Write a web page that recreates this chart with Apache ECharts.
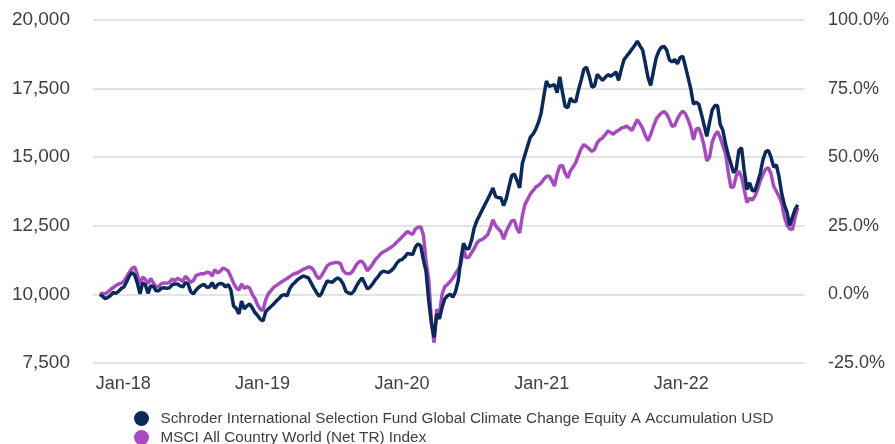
<!DOCTYPE html>
<html>
<head>
<meta charset="utf-8">
<script src="https://cdn.jsdelivr.net/npm/echarts@6/dist/echarts.min.js"></script>
<style>
  html, body { margin: 0; padding: 0; background: #fff; }
  #chart { width: 895px; height: 444px; }
</style>
</head>
<body>
<div id="chart"></div>
<script>
// weekly observations starting 1 Nov 2017, growth of 10,000
const firstDate = Date.UTC(2017, 10, 1);
const stepDays = 7;
const fundName = 'Schroder International Selection Fund Global Climate Change Equity A Accumulation USD';
const indexName = 'MSCI All Country World (Net TR) Index';

const fundValues = [
  10000, 9930, 9840, 9890, 9960, 10070, 10040, 10110, 10220, 10270,
  10460, 10670, 10800, 10710, 10420, 10020, 10420, 10350, 10040, 10310,
  10290, 10130, 10130, 10220, 10240, 10220, 10240, 10350, 10380, 10380,
  10310, 10270, 10430, 10380, 10090, 10020, 10160, 10260, 10330, 10360,
  10260, 10270, 10430, 10220, 10350, 10400, 10380, 10270, 10360, 10160,
  9580, 9490, 9290, 9760, 9470, 9580, 9650, 9510, 9340, 9230,
  9090, 9030, 9360, 9470, 9560, 9650, 9760, 9850, 9960, 9990,
  9950, 10200, 10350, 10440, 10540, 10610, 10670, 10640, 10600, 10420,
  10240, 10070, 9930, 10050, 10290, 10490, 10460, 10440, 10540, 10600,
  10530, 10380, 10110, 10050, 10020, 10120, 10310, 10470, 10600, 10420,
  10200, 10260, 10380, 10530, 10640, 10780, 10850, 10820, 10800, 10870,
  10970, 11130, 11240, 11270, 11360, 11490, 11470, 11450, 11720, 11840,
  11770, 11260, 10830, 9760, 8960, 8430, 9290, 9110, 9530, 9840,
  9950, 10010, 9900, 10100, 10490, 11280, 11860, 11660, 11660, 11970,
  12420, 12690, 12880, 13080, 13270, 13460, 13660, 13880, 13570, 13520,
  13520, 13230, 13500, 13920, 14320, 14390, 14150, 13880, 14770, 15100,
  15420, 15730, 15840, 16010, 16260, 16590, 17200, 17780, 17580, 17610,
  17640, 17350, 17930, 17370, 16850, 16800, 17150, 17030, 17030, 17450,
  17810, 18200, 18280, 17970, 17560, 17590, 18020, 17910, 17800, 17910,
  18010, 17950, 18010, 18110, 17800, 18200, 18550, 18680, 18800, 18940,
  19070, 19230, 19060, 18900, 18420, 17900, 17620, 18120, 18600, 18860,
  19010, 19040, 18900, 18550, 18470, 18560, 18400, 18630, 18680, 18300,
  17900, 17490, 16930, 17010, 16930, 16560, 16160, 15760, 16260, 16720,
  16880, 16880, 16190, 15980, 15480, 15090, 14760, 14430, 14580, 15250,
  15340, 14500, 13820, 14070, 13780, 13790, 14080, 14420, 14910, 15200,
  15250, 15000, 14640, 14720, 14290, 13680, 13260, 13000, 12510, 12810,
  13100, 13260
];

const indexValues = [
  10000, 10040, 10020, 10090, 10180, 10250, 10320, 10380, 10410, 10480,
  10640, 10800, 10940, 11000, 10730, 10370, 10630, 10550, 10390, 10580,
  10420, 10270, 10290, 10390, 10420, 10410, 10440, 10560, 10500, 10580,
  10540, 10470, 10660, 10560, 10440, 10510, 10690, 10730, 10750, 10750,
  10810, 10790, 10670, 10900, 10780, 10840, 10960, 10920, 10850, 10640,
  10410, 10240, 10160, 10380, 10220, 10280, 10240, 10000, 9850, 9620,
  9450, 9420, 9800, 10020, 10140, 10260, 10320, 10390, 10460, 10520,
  10580, 10650, 10720, 10760, 10790, 10850, 10910, 10950, 11000, 10980,
  10870, 10670, 10570, 10700, 10870, 11040, 11110, 11140, 11160, 11160,
  11120, 10860, 10770, 10750, 10780, 10920, 11090, 11190, 11210, 11080,
  10860, 10970, 11110, 11260, 11370, 11480, 11550, 11600, 11660, 11720,
  11800, 11900, 11990, 12090, 12190, 12290, 12230, 12190, 12380, 12450,
  12460, 12170, 11200, 10540, 9000, 8240, 9460, 9280, 10010, 10280,
  10360, 10470, 10590, 10760, 10900, 11100, 11660, 11330, 11360, 11520,
  11670, 11870, 11970, 12000, 12080, 12170, 12410, 12720, 12510, 12390,
  12290, 12010, 12300, 12490, 12680, 12700, 12390, 12240, 12860, 13280,
  13470, 13660, 13780, 13910, 13970, 14060, 14190, 14300, 14320, 14160,
  13950, 14380, 14680, 14700, 14420, 14250, 14510, 14650, 14810, 15070,
  15310, 15460, 15390, 15310, 15210, 15280, 15520, 15640, 15700, 15820,
  15950, 15900, 15840, 15930, 15980, 16060, 16090, 16130, 16060, 15970,
  16170, 16370, 16220, 16050, 15790, 15600, 15830, 16110, 16370, 16510,
  16610, 16660, 16570, 16370, 16120, 16160, 16400, 16570, 16680, 16580,
  16360, 16090, 15630, 16020, 16060, 15790, 15400, 14860, 15000, 15550,
  15800, 15940, 15720, 15420, 15130, 14460, 13900, 13910, 14320, 14490,
  14280, 13820, 13350, 13510, 13440, 13580, 13830, 14150, 14380, 14560,
  14620, 14390, 13940, 13760, 13570, 13330, 12820, 12520, 12390, 12360,
  12800, 13160
];

const tickYears = [2018, 2019, 2020, 2021, 2022];

const weekDate = i => firstDate + i * stepDays * 86400000;
const fundData = fundValues.map((v, i) => [weekDate(i), v]);
const indexData = indexValues.map((v, i) => [weekDate(i), v]);

const fontFamily = 'Liberation Sans, Arial, sans-serif';
const labelStyle = { color: '#404040', fontSize: 18, fontFamily: fontFamily };
const legendBase = {
  orient: 'vertical',
  left: 129,
  icon: 'circle',
  itemWidth: 28,
  itemHeight: 15,
  textStyle: { color: '#404040', fontSize: 15.3, fontFamily: fontFamily }
};

const chart = echarts.init(document.getElementById('chart'), null, { renderer: 'canvas' });
chart.setOption({
  animation: false,
  backgroundColor: '#fff',
  grid: { left: 93, right: 90, top: 20, bottom: 81 },
  legend: [
    Object.assign({ top: 406, data: [fundName] }, legendBase),
    Object.assign({ top: 425, data: [indexName] }, legendBase)
  ],
  xAxis: {
    type: 'value',
    min: Date.UTC(2017, 9, 14),
    max: Date.UTC(2022, 10, 21),
    axisLine: { show: false },
    axisTick: { show: false },
    splitLine: { show: false },
    axisLabel: Object.assign({
      margin: 12,
      customValues: tickYears.map(y => Date.UTC(y, 0, 1)),
      formatter: v => 'Jan-' + String(new Date(v).getUTCFullYear()).slice(2)
    }, labelStyle)
  },
  yAxis: [{
    type: 'value',
    min: 7500,
    max: 20000,
    interval: 2500,
    axisLine: { show: false },
    axisTick: { show: false },
    splitLine: { lineStyle: { color: '#e3e3e3', width: 2 } },
    axisLabel: Object.assign({
      margin: 23,
      formatter: v => v.toLocaleString('en-US')
    }, labelStyle, { fontSize: 19 })
  }, {
    type: 'value',
    min: -25,
    max: 100,
    interval: 25,
    axisLine: { show: false },
    axisTick: { show: false },
    splitLine: { show: false },
    axisLabel: Object.assign({
      margin: 23,
      formatter: v => v.toFixed(1) + '%'
    }, labelStyle)
  }],
  series: [{
    name: indexName,
    type: 'line',
    data: indexData,
    showSymbol: false,
    z: 2,
    itemStyle: { color: '#a64bbf' },
    lineStyle: { color: '#a64bbf', width: 3.5 }
  }, {
    name: fundName,
    type: 'line',
    data: fundData,
    showSymbol: false,
    z: 3,
    itemStyle: { color: '#0b2a5b' },
    lineStyle: { color: '#0b2a5b', width: 3.5 }
  }]
});
</script>
</body>
</html>
